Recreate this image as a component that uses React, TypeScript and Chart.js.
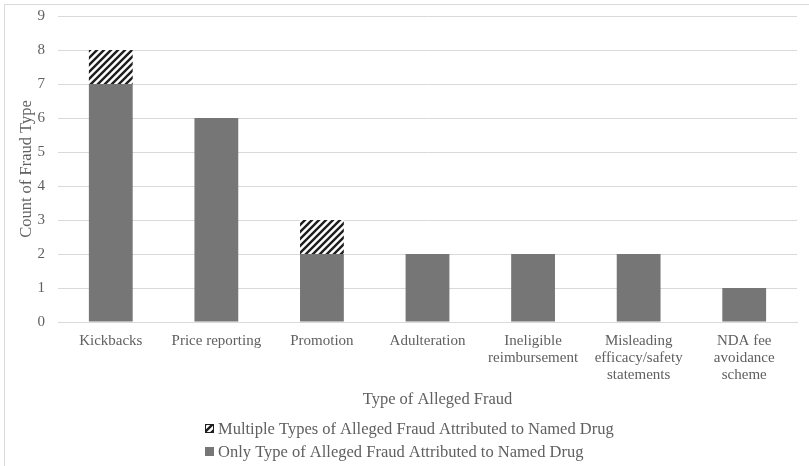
import { useEffect, useRef } from 'react';
import { Chart, registerables } from 'chart.js';

Chart.register(...registerables);

// Fraud categories (multi-line labels are split into arrays)
const categories: (string | string[])[] = [
  'Kickbacks',
  'Price reporting',
  'Promotion',
  'Adulteration',
  ['Ineligible', 'reimbursement'],
  ['Misleading', 'efficacy/safety', 'statements'],
  ['NDA fee', 'avoidance', 'scheme'],
];

// Counts per category
const onlyTypeCounts = [7, 6, 2, 2, 2, 2, 1];
const multipleTypeCounts = [1, 0, 1, 0, 0, 0, 0];

const onlyTypeLabel = 'Only Type of Alleged Fraud Attributed to Named Drug';
const multipleTypeLabel = 'Multiple Types of Alleged Fraud Attributed to Named Drug';
const xTitle = 'Type of Alleged Fraud';
const yTitle = 'Count of Fraud Type';

const yMin = 0;
const yMax = 9;
const yStep = 1;

const FONT = '"Liberation Serif", "Times New Roman", serif';
const TEXT = '#606060';
const GRID = '#d9d9d9';
const BAR = '#767676';

function makeHatch(): CanvasPattern | string {
  const size = 7;
  const c = document.createElement('canvas');
  c.width = size;
  c.height = size;
  const g = c.getContext('2d');
  if (!g) return '#333';
  g.fillStyle = '#ffffff';
  g.fillRect(0, 0, size, size);
  g.strokeStyle = '#1e1e1e';
  g.lineWidth = 2.4;
  g.lineCap = 'square';
  g.beginPath();
  // upward diagonals, drawn past the tile edges so the tiling is seamless
  g.moveTo(0, size);
  g.lineTo(size, 0);
  g.moveTo(-size / 2, size / 2);
  g.lineTo(size / 2, -size / 2);
  g.moveTo(size / 2, size * 1.5);
  g.lineTo(size * 1.5, size / 2);
  g.stroke();
  const p = g.createPattern(c, 'repeat');
  return p ?? '#333';
}

// Outer frame around the whole chart
const framePlugin = {
  id: 'frame',
  beforeDraw(chart: Chart) {
    const ctx = chart.ctx;
    ctx.save();
    ctx.fillStyle = '#ffffff';
    ctx.fillRect(0, 0, chart.width, chart.height);
    ctx.strokeStyle = GRID;
    ctx.lineWidth = 1;
    ctx.strokeRect(4.5, 4.5, chart.width + 10, chart.height + 10);
    ctx.restore();
  },
};

// X-axis title plus a legend stacked in two rows beneath it
const bottomTextPlugin = {
  id: 'bottomText',
  afterDraw(chart: Chart) {
    const ctx = chart.ctx;
    ctx.save();
    ctx.textBaseline = 'middle';

    ctx.font = `16.5px ${FONT}`;
    ctx.fillStyle = TEXT;
    ctx.textAlign = 'center';
    ctx.fillText(xTitle, chart.chartArea.left + (chart.chartArea.right - chart.chartArea.left) / 2 + 10, 400);

    const items = [...chart.data.datasets].reverse();
    const left = 205;
    const rowY = [428.5, 451.5];
    const box = 9;
    ctx.textAlign = 'left';
    items.forEach((ds, i) => {
      const y = rowY[i];
      ctx.fillStyle = ds.backgroundColor as any;
      ctx.fillRect(left, y - box / 2, box, box);
      if ((ds as any).legendOutline) {
        ctx.strokeStyle = '#1e1e1e';
        ctx.lineWidth = 1;
        ctx.strokeRect(left + 0.5, y - box / 2 + 0.5, box - 1, box - 1);
      }
      ctx.fillStyle = TEXT;
      ctx.fillText(String(ds.label), left + 13, y + 1);
    });
    ctx.restore();
  },
};

export default function App() {
  const canvasRef = useRef<HTMLCanvasElement | null>(null);

  useEffect(() => {
    const canvas = canvasRef.current;
    if (!canvas) return;
    const hatch = makeHatch();

    const chart = new Chart(canvas, {
      type: 'bar',
      data: {
        labels: categories,
        datasets: [
          {
            label: onlyTypeLabel,
            data: onlyTypeCounts,
            backgroundColor: BAR,
            borderWidth: 0,
            categoryPercentage: 1,
            barPercentage: 0.415,
          },
          {
            label: multipleTypeLabel,
            data: multipleTypeCounts,
            backgroundColor: hatch as any,
            borderWidth: 0,
            categoryPercentage: 1,
            barPercentage: 0.415,
            legendOutline: true,
          } as any,
        ],
      },
      options: {
        responsive: false,
        animation: false,
        layout: { padding: { left: 0, top: 16, right: 12, bottom: 56 } },
        plugins: {
          legend: { display: false },
          tooltip: { enabled: false },
        },
        scales: {
          x: {
            stacked: true,
            grid: { display: false, drawTicks: false },
            border: { display: true, color: GRID, width: 1 },
            ticks: {
              color: TEXT,
              font: { family: FONT, size: 15, lineHeight: 1.13 },
              padding: 11,
              maxRotation: 0,
              autoSkip: false,
            },
            afterFit(scale: any) {
              scale.height = 88;
              scale.paddingLeft = 0;
              scale.paddingRight = 0;
            },
          },
          y: {
            stacked: true,
            min: yMin,
            max: yMax,
            grid: { color: GRID, drawTicks: false, lineWidth: 1 },
            border: { display: false },
            ticks: {
              stepSize: yStep,
              color: TEXT,
              font: { family: FONT, size: 15 },
              padding: 13,
            },
            title: {
              display: true,
              text: yTitle,
              color: TEXT,
              font: { family: FONT, size: 16.5, lineHeight: 1.2 },
              padding: { top: 17, bottom: 0 },
            },
            afterFit(scale: any) {
              scale.width = 58;
              scale.paddingTop = 0;
              scale.paddingBottom = 0;
            },
          },
        },
      },
      plugins: [framePlugin, bottomTextPlugin],
    });

    return () => chart.destroy();
  }, []);

  return (
    <div
      style={{
        position: 'absolute',
        left: 0,
        top: 0,
        width: 809,
        height: 466,
        overflow: 'hidden',
        background: '#fff',
      }}
    >
      <canvas ref={canvasRef} width={809} height={466} style={{ display: 'block' }} />
    </div>
  );
}
